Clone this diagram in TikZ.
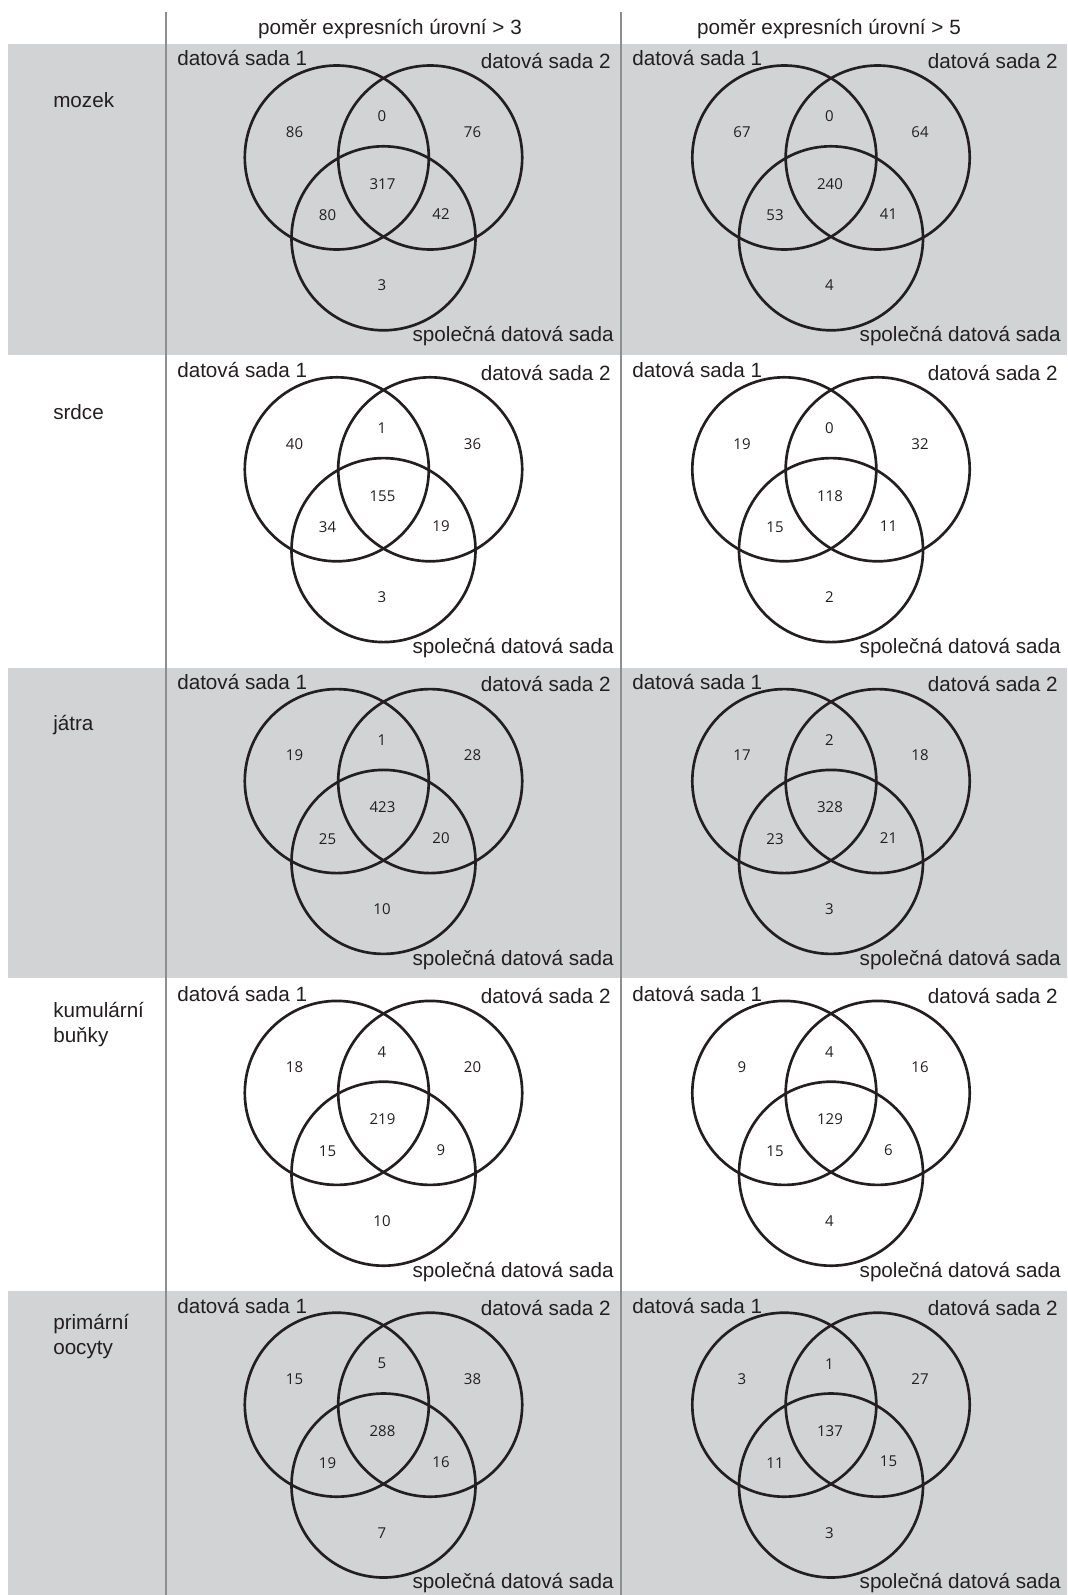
\documentclass[tikz,border=0pt]{standalone}
\usepackage{fontspec}
\setmainfont{Liberation Sans}
\newfontfamily\numfont{Open Sans}
\definecolor{bandgray}{HTML}{D1D3D4}
\definecolor{rulegray}{HTML}{8C8E90}
\definecolor{ink}{HTML}{231F20}

\tikzset{
  venn/.style={draw=ink, line width=2pt},
  band/.style={fill=bandgray},
  divider/.style={draw=rulegray, line width=1.6pt},
  setlabel/.style={font=\fontsize{15.5}{18.75}\selectfont, text=ink, inner sep=0pt},
  count/.style={font=\numfont\fontsize{11.25}{13}\selectfont, text=ink, inner sep=0pt},
}

\begin{document}
\begin{tikzpicture}[x=0.75pt,y=-0.75pt]
\useasboundingbox (0,0) rectangle (1067,1595);

% Grey bands (every other row)
\foreach \k in {0,2,4} {
    \fill[band] (8.3,44+311.8*\k) rectangle (1067,44+311.8*\k+310.5);
}

% Column rules
\draw[divider] (165.7,11.7) -- (165.7,1595);
\draw[divider] (620.7,11.7) -- (620.7,1595);

% Column headings
\node[setlabel,anchor=base] (head3) at (390,34.5) {poměr expresních úrovní > 3};
\node[setlabel,anchor=base] (head5) at (829,34.5) {poměr expresních úrovní > 5};

% Tissues
\foreach \k/\tissue in {0/mozek, 1/srdce, 2/játra, 3/kumulární\\buňky, 4/primární\\oocyty} {
    \node[setlabel,anchor=base west,align=left] (tissue\k) at (53,107.3+311.8*\k) {\tissue};
}

% Venn circles and set names
\foreach \p/\mx/\pl/\pr in {L/383.5/166/620, R/831/621/1067} {
    \foreach \k in {0,...,4} {
        \pgfmathsetmacro\cy{157.5+311.8*\k}
        \draw[venn] (\mx-46.7,\cy) circle (92);
        \draw[venn] (\mx+46.7,\cy) circle (92);
        \draw[venn] (\mx,\cy+80.8) circle (92);
        \node[setlabel,anchor=base west] (\p\k one) at (\pl+11,\cy-91.5) {datová sada 1};
        \node[setlabel,anchor=base east] (\p\k two) at (\pr-9,\cy-89.2) {datová sada 2};
        \node[setlabel,anchor=base east] (\p\k common) at (\pr-6,\cy+184.2) {společná datová sada};
    }
}

% Region counts: 1 only / 1+2 / 2 only / all / 1+c / 2+c / c only
\foreach \p/\mx/\k/\ra/\rab/\rb/\rabc/\rac/\rbc/\rc in {
    L/383.5/0/86/0/76/317/80/42/3,   R/831/0/67/0/64/240/53/41/4,
    L/383.5/1/40/1/36/155/34/19/3,   R/831/1/19/0/32/118/15/11/2,
    L/383.5/2/19/1/28/423/25/20/10,  R/831/2/17/2/18/328/23/21/3,
    L/383.5/3/18/4/20/219/15/9/10,   R/831/3/9/4/16/129/15/6/4,
    L/383.5/4/15/5/38/288/19/16/7,   R/831/4/3/1/27/137/11/15/3} {
    \pgfmathsetmacro\cy{157.5+311.8*\k}
    \node[count] (\p\k a) at (\mx-89,\cy-25.5) {\ra};
    \node[count] (\p\k ab) at (\mx-1.5,\cy-41) {\rab};
    \node[count] (\p\k b) at (\mx+89,\cy-25.5) {\rb};
    \node[count] (\p\k abc) at (\mx-1,\cy+26.5) {\rabc};
    \node[count] (\p\k ac) at (\mx-56,\cy+58) {\rac};
    \node[count] (\p\k bc) at (\mx+57.5,\cy+57) {\rbc};
    \node[count] (\p\k c) at (\mx-1.5,\cy+128) {\rc};
}
\end{tikzpicture}
\end{document}
